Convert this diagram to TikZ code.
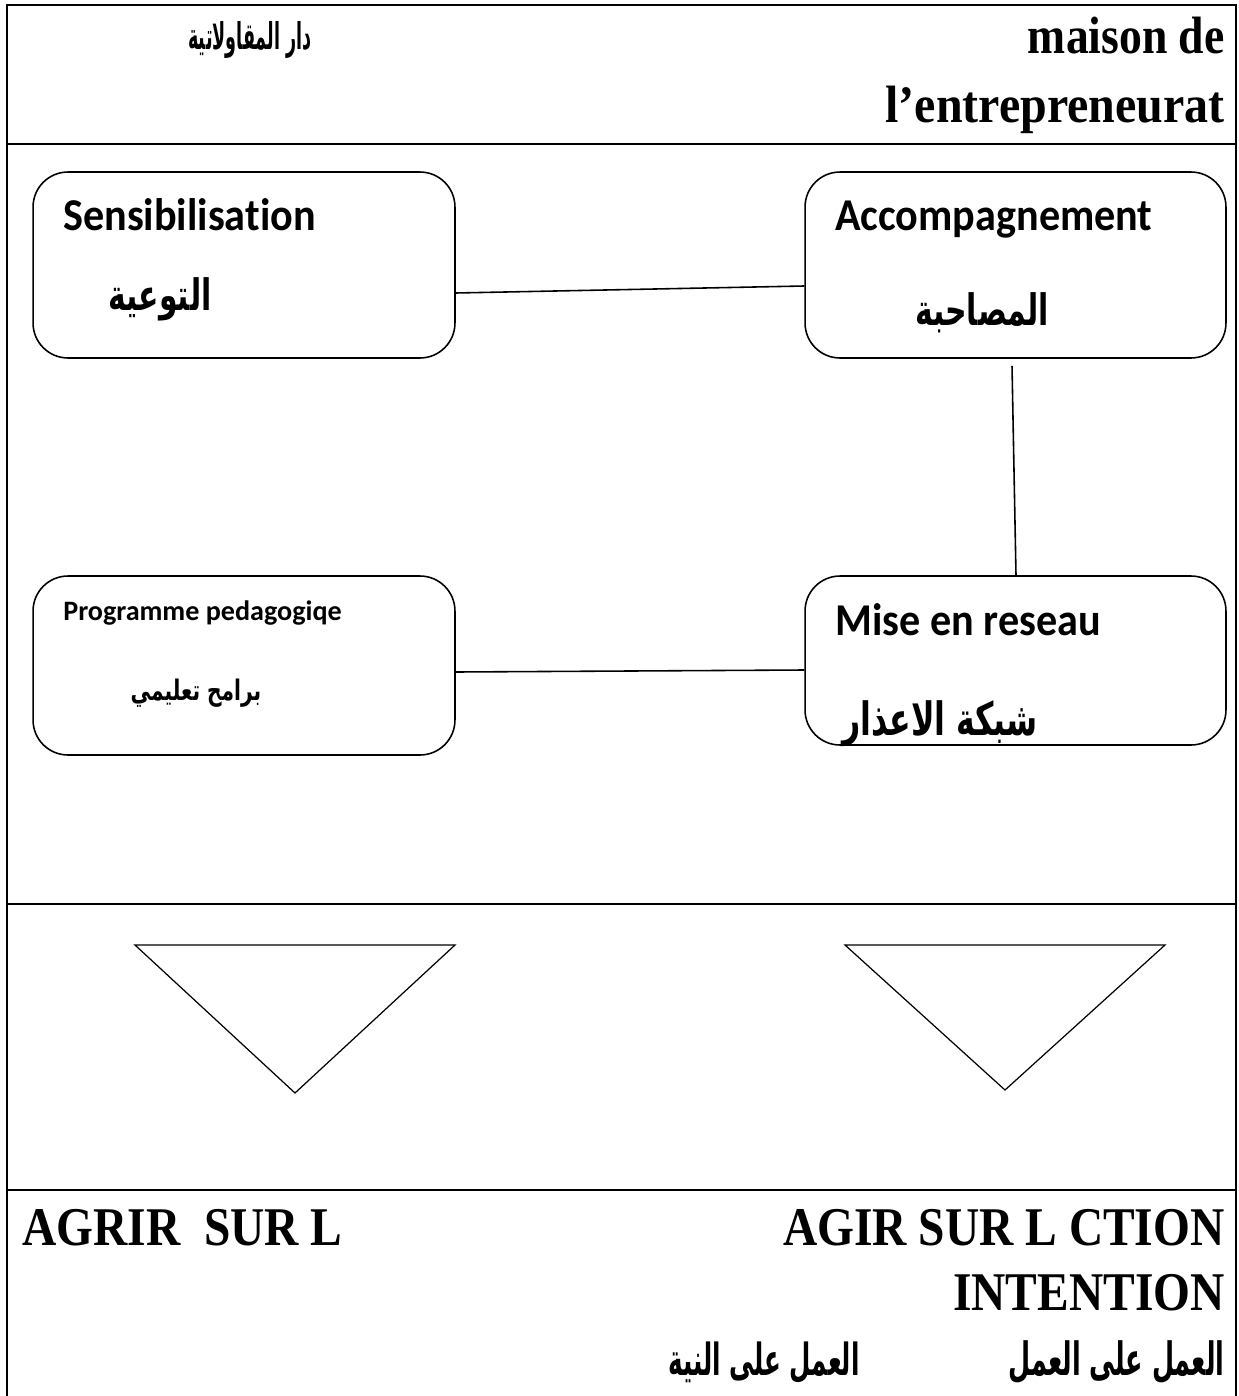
\documentclass[tikz,border=0pt]{standalone}
\usepackage{fontspec}
\setmainfont{Liberation Serif}
\newfontfamily\boxfont[Ligatures=NoCommon]{Carlito}
\newfontfamily\arabicfont[Script=Arabic]{DejaVu Sans}
\TeXXeTstate=1

\begin{document}
\begin{tikzpicture}[x=0.02cm,y=-0.02cm,
    frame/.style={line width=1.4pt},
    box/.style={draw,line width=0.9pt,rounded corners=0.7cm,inner sep=0pt},
    link/.style={line width=0.9pt},
    heading/.style={font=\bfseries\fontsize{26}{30}\selectfont,inner sep=0pt},
    boxtitle/.style={font=\boxfont\bfseries\fontsize{24}{28}\selectfont,inner sep=0pt},
    ar/.style={font=\arabicfont\bfseries\fontsize{17}{20}\selectfont,inner sep=0pt}]
    \useasboundingbox (0,0) rectangle (1239,1396);

    % Table frame
    \draw[frame] (7,1396) -- (7,5) -- (1236,5) -- (1236,1396);
    \draw[frame] (7,144) -- (1236,144);
    \draw[frame] (7,904) -- (1236,904);
    \draw[frame] (7,1190) -- (1236,1190);

    % Header
    \node[heading,anchor=base east] (maison) at (1225,53) {\scalebox{1}[1.15]{maison de}};
    \node[heading,anchor=base east] (entre) at (1225,122) {\scalebox{1.05}[1.15]{l’entrepreneurat}};
    \node[ar,anchor=base,font=\arabicfont\bfseries\fontsize{10}{12}\selectfont] (dar) at (250,50) {\scalebox{1}[2.1]{\beginR دار المقاولاتية\endR}};

    % Boxes
    \node[box,minimum width=8.44cm,minimum height=3.72cm] (sens) at (244,265) {};
    \node[box,minimum width=8.42cm,minimum height=3.72cm] (accomp) at (1015.5,265) {};
    \node[box,minimum width=8.44cm,minimum height=3.58cm] (prog) at (244,665.5) {};
    \node[box,minimum width=8.42cm,minimum height=3.38cm] (reseau) at (1015.5,660.5) {};

    \node[boxtitle,anchor=base west] (sensT) at (63,230) {\scalebox{1}[1.08]{Sensibilisation}};
    \node[ar,anchor=base] (sensA) at (160,310) {\scalebox{1}[1.45]{\beginR التوعية\endR}};
    \node[boxtitle,anchor=base west] (accompT) at (835,230) {\scalebox{1}[1.08]{Accompagnement}};
    \node[ar,anchor=base] (accompA) at (982,325) {\scalebox{1}[1.45]{\beginR المصاحبة\endR}};
    \node[boxtitle,anchor=base west,font=\boxfont\bfseries\fontsize{16}{19}\selectfont] (progT) at (63,620) {Programme pedagogiqe};
    \node[ar,anchor=base,font=\arabicfont\bfseries\fontsize{11.5}{14}\selectfont] (progA) at (196,700) {\scalebox{1}[1.4]{\beginR برامح تعليمي\endR}};
    \node[boxtitle,anchor=base west] (reseauT) at (835,635) {\scalebox{1}[1.08]{Mise en reseau}};
    \node[ar,anchor=base,font=\arabicfont\bfseries\fontsize{18}{22}\selectfont] (reseauA) at (940,735) {\scalebox{1}[1.45]{\beginR شبكة الاعذار\endR}};

    % Links
    \draw[link] ([yshift=-0.56cm]sens.east) -- ([yshift=-0.42cm]accomp.west);
    \draw[link] ([xshift=-0.07cm,yshift=-0.14cm]accomp.south) -- ([xshift=0.01cm]reseau.north);
    \draw[link] ([yshift=-0.13cm]prog.east) -- ([yshift=-0.19cm]reseau.west);

    % Triangles
    \draw[line width=0.7pt] (135,945) -- (455,945) -- (295,1093) -- cycle;
    \draw[line width=0.7pt] (845,945) -- (1165,945) -- (1005,1090) -- cycle;

    % Bottom row
    \node[heading,anchor=base west,font=\bfseries\fontsize{27}{31}\selectfont] (agrir) at (22,1245) {\scalebox{1}[1.15]{AGRIR\ \ SUR L}};
    \node[heading,anchor=base east,font=\bfseries\fontsize{27}{31}\selectfont] (agir) at (1225,1245) {\scalebox{1}[1.15]{AGIR SUR L CTION}};
    \node[heading,anchor=base east,font=\bfseries\fontsize{27}{31}\selectfont] (intent) at (1225,1310) {\scalebox{1}[1.15]{INTENTION}};
    \node[ar,anchor=base east,font=\arabicfont\bfseries\fontsize{14.5}{17}\selectfont] (amal) at (1225,1375) {\scalebox{1}[1.8]{\beginR العمل على العمل\endR}};
    \node[ar,anchor=base east,font=\arabicfont\bfseries\fontsize{14}{17}\selectfont] (niya) at (860,1375) {\scalebox{1}[1.8]{\beginR العمل على النية\endR}};
\end{tikzpicture}
\end{document}
